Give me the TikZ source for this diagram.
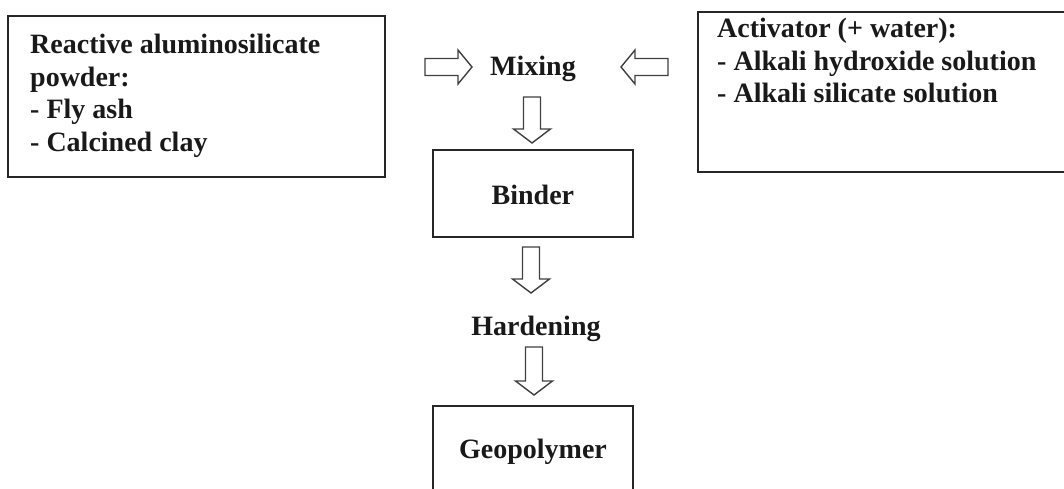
\documentclass[tikz,border=0pt]{standalone}
\usepackage{fontspec}
\setmainfont{Liberation Serif}
\newcommand{\downblock}[3]{% x, ytop, ytip
  \draw[blockarrow] (#1-8.5,#2) -- (#1+8.5,#2) -- (#1+8.5,#3-14) -- (#1+18.5,#3-14) -- (#1,#3) -- (#1-18.5,#3-14) -- (#1-8.5,#3-14) -- cycle;}
\begin{document}
\begin{tikzpicture}[x=1pt,y=-1pt,
  box/.style={draw=black!85, line width=1.8pt},
  txt/.style={font=\fontsize{28}{32.5}\selectfont\bfseries, inner sep=0pt, text=black!90},
  blockarrow/.style={draw=black!75, line width=1.4pt, line join=miter, fill=white}]
\useasboundingbox (0,0) rectangle (1064,488);
\clip (0,0) rectangle (1064,488);
% boxes
\draw[box] (8,16) rectangle (385,177);
\draw[box] (698,12) rectangle (1080,172);
\node[box, minimum width=200pt, minimum height=87pt, anchor=north west, inner sep=0pt] (binder) at (432,149) {};
\draw[box] (433,406) rectangle (633,500);
% texts
\node[txt, anchor=north west, align=left] (powder) at (30,34) {Reactive aluminosilicate\\powder:\\- Fly ash\\- Calcined clay};
\node[txt, anchor=north west, align=left] (activ) at (717,18) {Activator (+ water):\\- Alkali hydroxide solution\\- Alkali silicate solution};
\node[txt, anchor=base] (mixing) at (533,75) {Mixing};
\node[txt, anchor=base] at (binder.center) [yshift=-11pt] {Binder};
\node[txt, anchor=base] (hard) at (536,335) {Hardening};
\node[txt, anchor=base] (geo) at (533,458) {Geopolymer};
% horizontal block arrows
\draw[blockarrow] (425,58.5) -- (458,58.5) -- (458,50) -- (472,67) -- (458,84) -- (458,75.5) -- (425,75.5) -- cycle;
\draw[blockarrow] (668,58.5) -- (635,58.5) -- (635,50) -- (621,67) -- (635,84) -- (635,75.5) -- (668,75.5) -- cycle;
% vertical block arrows
\downblock{532}{97}{143}
\downblock{531}{247}{293}
\downblock{534}{347}{395}
\end{tikzpicture}
\end{document}
